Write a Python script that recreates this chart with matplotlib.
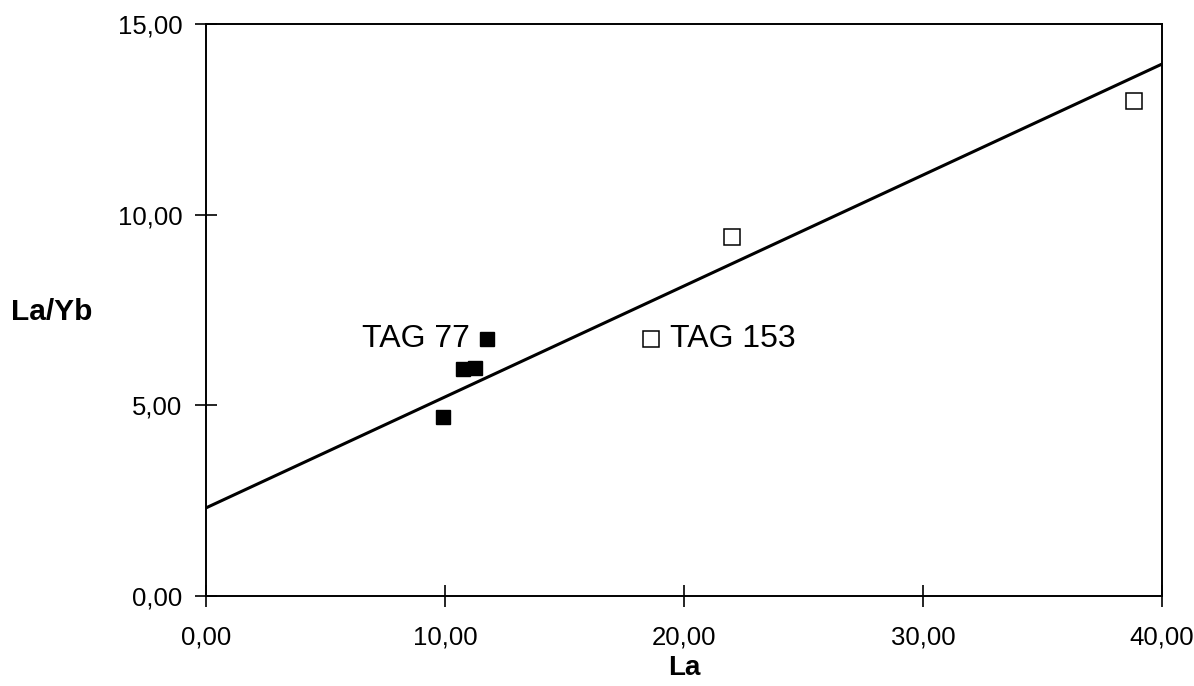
import matplotlib
matplotlib.use("Agg")
import matplotlib.pyplot as plt
from matplotlib.ticker import FuncFormatter

plt.rcParams['font.family'] = ['Liberation Sans', 'DejaVu Sans']

# Data
la_filled = [9.90, 10.74, 11.24, 11.76]
layb_filled = [4.69, 5.96, 5.99, 6.75]
la_open = [18.60, 22.02, 38.81]
layb_open = [6.75, 9.41, 12.98]
line_x = [0.0, 40.0]
line_y = [2.31, 13.95]
x_ticks = [0, 10, 20, 30, 40]
y_ticks = [0, 5, 10, 15]
label_77 = "TAG 77"
label_153 = "TAG 153"

fig = plt.figure(figsize=(11.94, 6.86), dpi=100)
ax = fig.add_axes([0.1725, 0.1312, 0.8007, 0.8338])

ax.plot(line_x, line_y, color='black', lw=2.2, zorder=2)
ax.plot(la_filled, layb_filled, linestyle='none', marker='s', markersize=10,
        color='black', zorder=3)
ax.plot(la_open, layb_open, linestyle='none', marker='s', markersize=11.5,
        markerfacecolor='white', markeredgecolor='black', markeredgewidth=1.1, zorder=3)

ax.annotate(label_77, (la_filled[3], layb_filled[3]), xytext=(-12, 0),
            textcoords='offset points', ha='right', va='center', fontsize=23)
ax.annotate(label_153, (la_open[0], layb_open[0]), xytext=(14, 0),
            textcoords='offset points', ha='left', va='center', fontsize=23)

ax.set_xlim(0, 40)
ax.set_ylim(0, 15)
ax.set_xticks(x_ticks)
ax.set_yticks(y_ticks)
fmt = FuncFormatter(lambda v, p: f"{v:.2f}".replace('.', ','))
ax.xaxis.set_major_formatter(fmt)
ax.yaxis.set_major_formatter(fmt)

ax.tick_params(axis='both', direction='inout', length=16, width=1.2,
               labelsize=18.5, color='black')
ax.tick_params(axis='y', pad=9)
ax.tick_params(axis='x', pad=13)

for s in ax.spines.values():
    s.set_linewidth(1.4)

ax.set_xlabel('La', fontsize=20, fontweight='bold', labelpad=4)
ax.set_ylabel('La/Yb', fontsize=21.5, fontweight='bold', rotation=0,
              ha='center', va='center')
ax.yaxis.set_label_coords(-0.161, 0.497)

fig.savefig('out.png', dpi=100)
